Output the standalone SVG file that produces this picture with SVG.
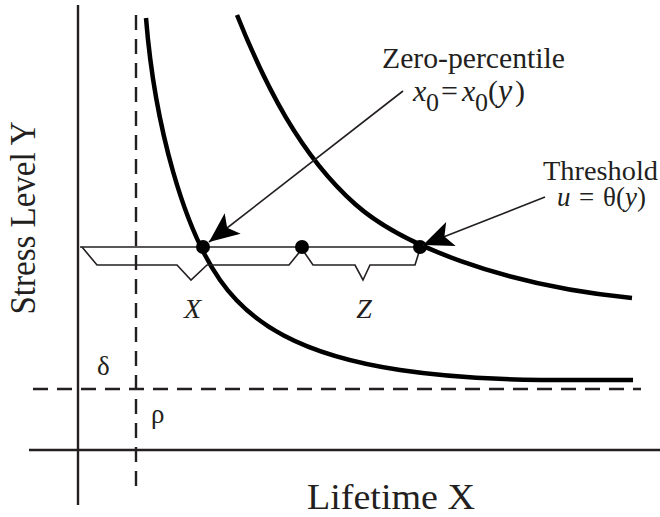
<svg xmlns="http://www.w3.org/2000/svg" width="660" height="517" viewBox="0 0 660 517">
<style>
text{font-family:"Liberation Serif","Times New Roman",serif;fill:#231f20}
.it{font-style:italic}
.axis{stroke:#231f20;stroke-width:2.4;fill:none}
.dash{stroke:#231f20;stroke-width:2.4;stroke-dasharray:15 9;fill:none}
.curve{stroke:#000;stroke-width:4.5;fill:none;stroke-linecap:butt}
.thin{stroke:#231f20;stroke-width:1.6;fill:none;stroke-linejoin:miter}
.dot{fill:#000}
</style>
<defs>
<marker id="ah" markerUnits="userSpaceOnUse" viewBox="-32 -15 34 30" markerWidth="34" markerHeight="30" refX="0" refY="0" orient="auto">
<path d="M0,0 L-30,-13 L-23,0 L-30,13 Z" fill="#000"/>
</marker>
</defs>
<g id="axes">
<line class="axis" x1="78" y1="5" x2="78" y2="505"/>
<line class="axis" x1="29" y1="450" x2="660" y2="450"/>
<line class="dash" x1="136" y1="15" x2="136" y2="495"/>
<line class="dash" x1="33" y1="389" x2="641" y2="389"/>
<text x="97" y="375" font-size="27">δ</text>
<text x="151" y="423" font-size="27">ρ</text>
<text x="307" y="509" font-size="36" textLength="168" lengthAdjust="spacingAndGlyphs">Lifetime X</text>
<text transform="translate(35,218) rotate(-90)" text-anchor="middle" font-size="36" textLength="193" lengthAdjust="spacingAndGlyphs">Stress Level Y</text>
</g>
<g id="curve-zero-percentile">
<path class="curve" d="M146,18 C155,130 185,230 220,280 C250,323 300,355 400,370 C480,382 560,380 633,380"/>
</g>
<g id="curve-threshold">
<path class="curve" d="M237,15 C265,85 300,155 355,204 C400,244 500,285 632,298"/>
</g>
<g id="level-line">
<line class="thin" x1="80" y1="247" x2="420" y2="247"/>
</g>
<g id="brace-X">
<polyline class="thin" points="82,247 97,265 177,265 191,280 207,265 289,265 302,249"/>
<text class="it" x="192.5" y="318" font-size="28" text-anchor="middle">X</text>
</g>
<g id="brace-Z">
<polyline class="thin" points="302,249 313,265 355,265 363,280 370,265 415,265 420,249"/>
<text class="it" x="364" y="318" font-size="28" text-anchor="middle">Z</text>
</g>
<g id="dots">
<circle class="dot" cx="203" cy="247" r="7"/>
<circle class="dot" cx="302" cy="247" r="7"/>
<circle class="dot" cx="420" cy="247" r="7"/>
</g>
<g id="connectors">
<line class="thin" x1="403" y1="91" x2="209" y2="242" marker-end="url(#ah)"/>
<line class="thin" x1="545" y1="197" x2="423" y2="245" marker-end="url(#ah)"/>
</g>
<g id="label-zero-percentile">
<text x="382" y="68" font-size="29" textLength="183" lengthAdjust="spacingAndGlyphs">Zero-percentile</text>
<text font-size="30"><tspan class="it" x="413" y="101">x</tspan><tspan x="426" y="111" font-size="26">0</tspan><tspan x="441" y="101">=</tspan><tspan class="it" x="462" y="101">x</tspan><tspan x="475" y="111" font-size="26">0</tspan><tspan x="488" y="101">(</tspan><tspan class="it" x="498" y="101" font-size="32">y</tspan><tspan x="515" y="101">)</tspan></text>
</g>
<g id="label-threshold">
<text x="543" y="180" font-size="27" textLength="115" lengthAdjust="spacingAndGlyphs">Threshold</text>
<text font-size="27" y="206"><tspan class="it" x="557">u</tspan><tspan x="579">=</tspan><tspan x="603">θ(</tspan><tspan class="it">y</tspan><tspan>)</tspan></text>
</g>
</svg>
